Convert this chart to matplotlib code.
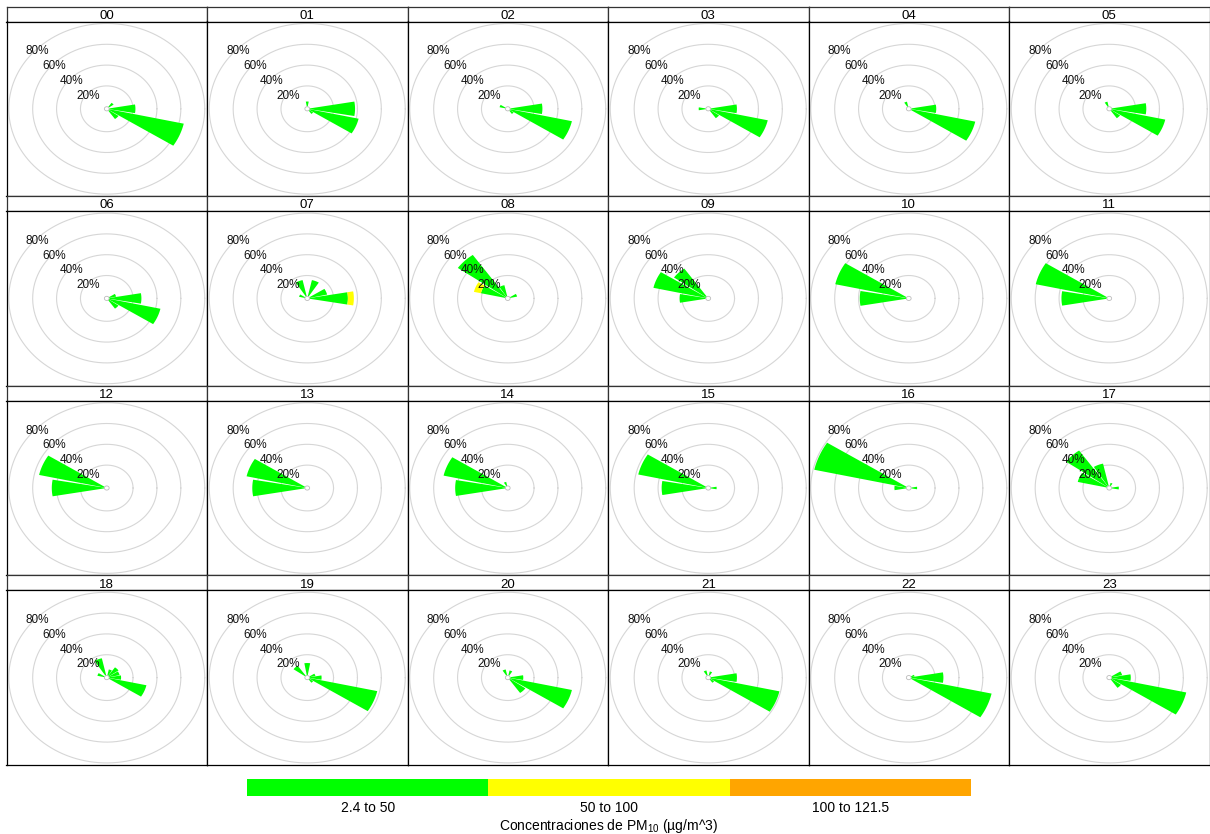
import numpy as np
import matplotlib
matplotlib.use("Agg")
import matplotlib.pyplot as plt
from matplotlib.patches import Polygon

plt.rcParams['font.family'] = ['Liberation Sans', 'DejaVu Sans']

# ---------------- data ----------------
hours = ["00", "01", "02", "03", "04", "05", "06", "07", "08", "09", "10", "11",
         "12", "13", "14", "15", "16", "17", "18", "19", "20", "21", "22", "23"]
directions = ["N", "NNE", "NE", "ENE", "E", "ESE", "SE", "SSE",
              "S", "SSW", "SW", "WSW", "W", "WNW", "NW", "NNW"]
dir_degrees = [0, 22.5, 45, 67.5, 90, 112.5, 135, 157.5,
               180, 202.5, 225, 247.5, 270, 292.5, 315, 337.5]

ring_values = [20, 40, 60, 80]
ring_labels = ["20%", "40%", "60%", "80%"]

bin_labels = ["2.4 to 50", "50 to 100", "100 to 121.5"]
bin_colors = ["#00FF00", "#FFFF00", "#FFA500"]

# frequency (%) per direction, PM10 2.4-50
#            N  NNE NE ENE  E  ESE SE SSE S SSW SW WSW  W  WNW NW NNW
freq_low = [
    [0, 0, 5, 0, 22, 64, 10, 0, 0, 0, 0, 0, 0, 0, 0, 0],    # 00
    [5, 0, 0, 0, 38, 42, 4, 0, 0, 0, 0, 0, 0, 0, 0, 0],     # 01
    [0, 0, 0, 0, 27, 53, 4, 0, 0, 0, 0, 0, 0, 5, 0, 0],     # 02
    [0, 0, 0, 0, 22, 49, 9, 0, 0, 0, 0, 0, 6, 0, 0, 0],     # 03
    [0, 0, 0, 0, 21, 55, 0, 0, 0, 0, 0, 0, 0, 0, 0, 5],     # 04
    [0, 0, 0, 0, 29, 46, 9, 0, 0, 0, 0, 0, 0, 0, 0, 5],     # 05
    [0, 0, 0, 6, 27, 44, 10, 0, 0, 0, 0, 0, 0, 0, 0, 0],    # 06
    [0, 16, 0, 15, 32, 0, 0, 0, 0, 0, 0, 0, 0, 5, 0, 16],   # 07
    [0, 0, 0, 6, 0, 0, 0, 0, 0, 0, 0, 0, 0, 21, 49, 11],    # 08
    [0, 0, 0, 0, 0, 0, 0, 0, 0, 0, 0, 0, 22, 45, 33, 0],    # 09
    [0, 0, 0, 0, 0, 0, 0, 0, 0, 0, 0, 0, 39, 61, 0, 0],     # 10
    [0, 0, 0, 0, 0, 0, 0, 0, 0, 0, 0, 0, 38, 61, 0, 0],     # 11
    [0, 0, 0, 0, 0, 0, 0, 0, 0, 0, 0, 0, 44, 56, 0, 0],     # 12
    [0, 0, 0, 0, 0, 0, 0, 0, 0, 0, 0, 0, 44, 50, 0, 0],     # 13
    [0, 0, 0, 0, 0, 0, 0, 0, 0, 0, 0, 0, 42, 53, 0, 4],     # 14
    [0, 0, 0, 0, 5, 0, 0, 0, 0, 0, 0, 0, 37, 58, 0, 0],     # 15
    [0, 0, 0, 0, 5, 0, 0, 0, 0, 0, 0, 0, 10, 79, 0, 0],     # 16
    [0, 3, 0, 0, 6, 0, 0, 0, 0, 0, 0, 0, 0, 25, 42, 22],    # 17
    [0, 6, 10, 9, 10, 32, 0, 0, 0, 0, 0, 0, 0, 6, 0, 17],   # 18
    [12, 0, 0, 5, 10, 58, 4, 0, 0, 0, 0, 0, 0, 0, 12, 0],   # 19
    [0, 5, 0, 0, 11, 53, 16, 0, 0, 0, 0, 0, 0, 0, 0, 6],    # 20
    [0, 4, 0, 0, 22, 59, 4, 0, 0, 0, 0, 0, 0, 0, 0, 5],     # 21
    [0, 0, 0, 3, 27, 69, 0, 0, 0, 0, 0, 0, 0, 0, 0, 0],     # 22
    [0, 0, 0, 9, 16, 64, 10, 0, 0, 0, 0, 0, 0, 0, 0, 0],    # 23
]
# PM10 50-100 (only non-zero hours listed; other hours are zero)
freq_mid_07 = [0, 0, 0, 0, 5, 0, 0, 0, 0, 0, 0, 0, 0, 0, 0, 0]
freq_mid_08 = [0, 0, 0, 0, 0, 0, 0, 0, 0, 0, 0, 0, 0, 6, 0, 0]
freq_mid = {"07": freq_mid_07, "08": freq_mid_08}
# PM10 100-121.5: no visible frequency in any hour
freq_high = {}

# ---------------- layout ----------------
W, H = 1210, 834
DPI = 100
fig = plt.figure(figsize=(W / DPI, H / DPI), dpi=DPI)
fig.patch.set_facecolor("white")

x0, y0 = 6.5, 6.5
col_w, row_h = 200.5, 189.6
strip_h = 15.0
OFF = 2.0          # centre hole (in %)
LIM = 83.9         # axis half range (in %)
HALF_W = 10.0      # half wedge width (deg)
LABEL_DY = 2.8     # label nudge (in %)
FRAME = "#000000"


def wedge(ax, deg, r1, r2, color):
    th = np.radians(np.linspace(deg - HALF_W, deg + HALF_W, 40))
    xo, yo = r2 * np.sin(th), r2 * np.cos(th)
    xi, yi = r1 * np.sin(th[::-1]), r1 * np.cos(th[::-1])
    pts = np.column_stack([np.concatenate([xo, xi]), np.concatenate([yo, yi])])
    ax.add_patch(Polygon(pts, closed=True, facecolor=color, edgecolor="none",
                         zorder=3))


t = np.linspace(0, 2 * np.pi, 400)
for i, hr in enumerate(hours):
    r, c = divmod(i, 6)
    left = x0 + c * col_w
    top = y0 + r * row_h
    # strip
    sax = fig.add_axes([left / W, 1 - (top + strip_h) / H, col_w / W, strip_h / H])
    sax.set_xticks([]); sax.set_yticks([])
    sax.set_facecolor("white")
    for s in sax.spines.values():
        s.set_color("#333333"); s.set_linewidth(0.9)
    sax.text(0.5, 0.38, hr, ha="center", va="center", fontsize=9.5,
             transform=sax.transAxes)
    # panel
    body_h = row_h - strip_h
    ax = fig.add_axes([left / W, 1 - (top + row_h) / H, col_w / W, body_h / H])
    ax.set_xlim(-LIM, LIM); ax.set_ylim(-LIM, LIM)
    ax.set_xticks([]); ax.set_yticks([])
    for s in ax.spines.values():
        s.set_color(FRAME); s.set_linewidth(0.9)
    for rv in ring_values:
        rr = rv + OFF
        ax.plot(rr * np.cos(t), rr * np.sin(t), color="#D6D6D6", lw=0.8, zorder=1)
    low = freq_low[i]
    mid = freq_mid.get(hr, [0] * 16)
    high = freq_high.get(hr, [0] * 16)
    for k, deg in enumerate(dir_degrees):
        base = OFF
        for val, colr in zip([low[k], mid[k], high[k]], bin_colors):
            if val > 0:
                wedge(ax, deg, base, base + val, colr)
                base += val
    ax.fill(OFF * np.cos(t), OFF * np.sin(t), facecolor="white",
            edgecolor="#BBBBBB", lw=0.6, zorder=4)
    for rv, rl in zip(ring_values, ring_labels):
        rr = rv + OFF
        ax.text(-rr / np.sqrt(2), rr / np.sqrt(2) - LABEL_DY, rl, ha="center",
                va="center", fontsize=8.5, color="#111111", zorder=5)

# ---------------- key ----------------
kx0, kx1, ky0, ky1 = 247, 971, 779, 796
kax = fig.add_axes([kx0 / W, 1 - ky1 / H, (kx1 - kx0) / W, (ky1 - ky0) / H])
kax.bar(range(len(bin_labels)), [1] * len(bin_labels), width=1.0,
        color=bin_colors, edgecolor="none")
kax.set_xlim(-0.5, len(bin_labels) - 0.5)
kax.set_ylim(0, 1)
kax.axis("off")
seg_w = (kx1 - kx0) / len(bin_labels)
for j, lab in enumerate(bin_labels):
    fig.text((kx0 + seg_w * (j + 0.5)) / W, 1 - 808 / H, lab, ha="center",
             va="center", fontsize=10)
fig.text(609 / W, 1 - 826 / H,
         r"Concentraciones de PM$_{\mathregular{10}}$ (µg/m^3)",
         ha="center", va="center", fontsize=10)

fig.savefig("out.png", dpi=DPI, facecolor="white")
